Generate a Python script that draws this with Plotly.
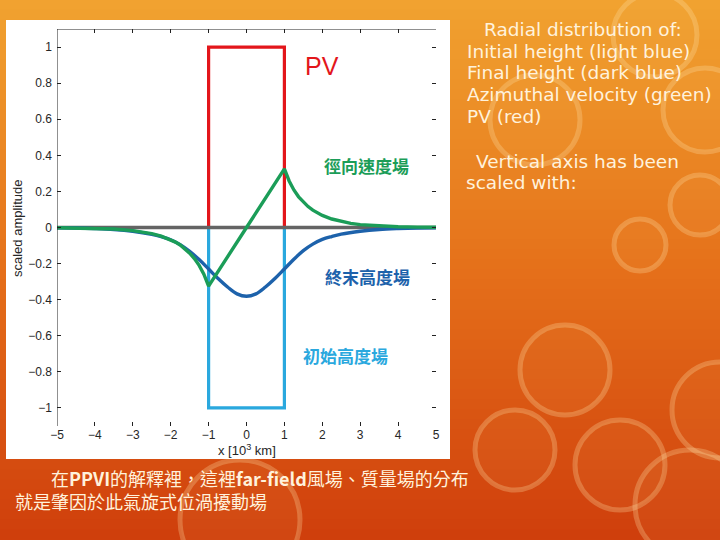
import plotly.graph_objects as go

# ---------------- data ----------------
x_box = [-5, -1, -1, 1, 1, 5]
initial_h = [0, 0, -1, -1, 0, 0]          # light blue
pv = [0, 0, 1, 1, 0, 0]                   # red

x_final = [-5, -4.5, -4, -3.5, -3, -2.5, -2.25, -2, -1.75, -1.5, -1.25, -1,
           -0.75, -0.5, -0.25, 0, 0.25, 0.5, 0.75, 1, 1.25, 1.5, 1.75, 2,
           2.25, 2.5, 3, 3.5, 4, 4.5, 5]
final_h = [-0.002, -0.003, -0.006, -0.011, -0.021, -0.038, -0.051, -0.068,
           -0.095, -0.132, -0.178, -0.230, -0.283, -0.330, -0.368, -0.381,
           -0.368, -0.330, -0.283, -0.230, -0.176, -0.128, -0.092, -0.066,
           -0.050, -0.037, -0.021, -0.011, -0.006, -0.003, -0.002]

x_vel = [-5, -4.5, -4, -3.5, -3, -2.75, -2.5, -2.25, -2, -1.875, -1.75, -1.625,
         -1.5, -1.375, -1.25, -1.125, -1, 0, 1, 1.125, 1.25, 1.375, 1.5, 1.625,
         1.75, 1.875, 2, 2.25, 2.5, 2.75, 3, 3.5, 4, 4.5, 5]
velocity = [-0.001, -0.002, -0.004, -0.008, -0.017, -0.024, -0.034, -0.048,
            -0.068, -0.081, -0.097, -0.117, -0.142, -0.172, -0.210, -0.259,
            -0.325, 0.0, 0.325, 0.258, 0.208, 0.170, 0.140, 0.116, 0.096,
            0.080, 0.067, 0.047, 0.033, 0.023, 0.016, 0.008, 0.004, 0.002,
            0.001]

y_ticks = [-1, -0.8, -0.6, -0.4, -0.2, 0, 0.2, 0.4, 0.6, 0.8, 1]
y_ticktext = ["\u22121", "\u22120.8", "\u22120.6", "\u22120.4", "\u22120.2",
              "0", "0.2", "0.4", "0.6", "0.8", "1"]
x_ticks = [-5, -4, -3, -2, -1, 0, 1, 2, 3, 4, 5]
x_ticktext = ["\u22125", "\u22124", "\u22123", "\u22122", "\u22121",
              "0", "1", "2", "3", "4", "5"]

# ---------------- layout helpers ----------------
W, H = 720, 540
ML, MR, MT, MB = 57, 284, 29, 114
PW, PH = W - ML - MR, H - MT - MB


def px(p):
    return (p - ML) / PW


def py(p):
    return (H - MB - p) / PH


RED = "#e3161b"
LBLUE = "#2aa8de"
DBLUE = "#1d62ab"
GREEN = "#1b9d58"

fig = go.Figure()
fig.add_trace(go.Scatter(x=x_box, y=initial_h, mode="lines",
                         line=dict(color=LBLUE, width=3.2), hoverinfo="skip"))
fig.add_trace(go.Scatter(x=x_box, y=pv, mode="lines",
                         line=dict(color=RED, width=3.2), hoverinfo="skip"))
fig.add_trace(go.Scatter(x=[x_ticks[0], x_ticks[-1]], y=[0, 0], mode="lines",
                         line=dict(color="#646464", width=3.3), hoverinfo="skip"))
fig.add_trace(go.Scatter(x=x_final, y=final_h, mode="lines",
                         line=dict(color=DBLUE, width=3.4, shape="spline"),
                         hoverinfo="skip"))
fig.add_trace(go.Scatter(x=x_vel, y=velocity, mode="lines",
                         line=dict(color=GREEN, width=3.4), hoverinfo="skip"))

# ---------------- background ----------------
shapes = []
top = (241, 163, 48)
mid = (229, 112, 26)
bot = (207, 62, 12)
n = 54
for k in range(n):
    t = (k + 0.5) / n
    if t < 0.5:
        a, b, s = top, mid, t / 0.5
    else:
        a, b, s = mid, bot, (t - 0.5) / 0.5
    c = tuple(int(round(a[i] + (b[i] - a[i]) * s)) for i in range(3))
    shapes.append(dict(type="rect", xref="paper", yref="paper", layer="below",
                       x0=px(0), x1=px(W), y0=py((k + 1) * H / n + 0.5),
                       y1=py(k * H / n - 0.5),
                       fillcolor="rgb(%d,%d,%d)" % c, line=dict(width=0)))

circles = [(655, 35, 42), (705, 110, 42), (640, 245, 26), (700, 205, 30),
           (565, 370, 45), (620, 465, 45), (720, 410, 48), (535, 120, 45),
           (690, 505, 55), (240, 520, 60), (515, 450, 40)]
for cx, cy, r in circles:
    shapes.append(dict(type="circle", xref="paper", yref="paper", layer="below",
                       x0=px(cx - r), x1=px(cx + r), y0=py(cy + r), y1=py(cy - r),
                       line=dict(color="rgba(255,225,170,0.28)", width=5),
                       fillcolor="rgba(255,200,120,0.06)"))

# white panel
shapes.append(dict(type="rect", xref="paper", yref="paper", layer="below",
                   x0=px(6), x1=px(450), y0=py(459), y1=py(20),
                   fillcolor="#ffffff", line=dict(width=0)))
# axis lines (left and top)
shapes.append(dict(type="line", xref="x", yref="y", x0=-5, x1=-5, y0=-1.1,
                   y1=1.1, line=dict(color="#222", width=1)))
shapes.append(dict(type="line", xref="x", yref="y", x0=-5, x1=5, y0=1.1,
                   y1=1.1, line=dict(color="#222", width=1)))

# ---------------- annotations ----------------
ann = []
CJK = "Noto Sans CJK TC"
C = dict(xanchor="center", yanchor="middle", showarrow=False)
ann.append(dict(x=2.0, y=0.895, xref="x", yref="y", text="PV",
                font=dict(family="Liberation Sans", size=25, color=RED), **C))
ann.append(dict(x=3.17, y=0.346, xref="x", yref="y", text="<b>徑向速度場</b>",
                font=dict(family=CJK, size=17, color=GREEN), **C))
ann.append(dict(x=3.19, y=-0.27, xref="x", yref="y", text="<b>終末高度場</b>",
                font=dict(family=CJK, size=17, color=DBLUE), **C))
ann.append(dict(x=2.6, y=-0.71, xref="x", yref="y", text="<b>初始高度場</b>",
                font=dict(family=CJK, size=17, color=LBLUE), **C))

# axis titles
ann.append(dict(x=px(18), y=py(228), xref="paper", yref="paper",
                text="scaled amplitude", textangle=-90,
                font=dict(family="Liberation Sans", size=13, color="#262626"), **C))
ann.append(dict(x=px(247), y=py(450), xref="paper", yref="paper",
                text="x [10<sup>3</sup> km]",
                font=dict(family="Liberation Sans", size=13, color="#262626"), **C))

# right side text
TXT = "#fff2dc"
right_lines = [
    (482, 30, "Radial distribution of:"),
    (465, 51.7, "Initial height (light blue)"),
    (465, 72.7, "Final height (dark blue)"),
    (465, 94.3, "Azimuthal velocity (green)"),
    (465, 116.7, "PV (red)"),
    (474, 161.7, "Vertical axis has been"),
    (464, 182.7, "scaled with:"),
]
for lx, ly, t in right_lines:
    ann.append(dict(x=px(lx), y=py(ly), xref="paper", yref="paper", text=t,
                    xanchor="left", yanchor="middle", showarrow=False,
                    font=dict(family="DejaVu Sans", size=18.5, color=TXT)))

# bottom text (one block, first line indented)
ann.append(dict(x=px(13), y=py(489), xref="paper", yref="paper",
                text="\u3000\u3000在<b>PPVI</b>的解釋裡，這裡<b>far-field</b>風場、質量場的分布"
                     "<br>就是肇因於此氣旋式位渦擾動場",
                xanchor="left", yanchor="middle", align="left", showarrow=False,
                font=dict(family=CJK, size=18, color=TXT)))

tickfont = dict(family="Liberation Sans", size=12, color="#262626")
fig.update_layout(
    width=W, height=H,
    margin=dict(l=ML, r=MR, t=MT, b=MB, pad=0),
    paper_bgcolor="rgb(229,112,26)",
    plot_bgcolor="rgba(0,0,0,0)",
    showlegend=False,
    shapes=shapes,
    annotations=ann,
    xaxis=dict(range=[-5, 5], tickvals=x_ticks, ticktext=x_ticktext,
               ticks="inside", ticklen=4, tickcolor="#222", mirror="ticks",
               showline=False, showgrid=False, zeroline=False,
               tickfont=tickfont, fixedrange=True),
    yaxis=dict(range=[-1.1, 1.1], tickvals=y_ticks, ticktext=y_ticktext,
               ticks="inside", ticklen=4, tickcolor="#222", mirror="ticks",
               showline=False, showgrid=False, zeroline=False,
               tickfont=tickfont, fixedrange=True, ticklabelstandoff=4),
)

fig.write_html(
    "out.html",
    config={"displayModeBar": False},
    post_script="document.body.style.margin='0';"
                "document.body.style.padding='0';"
                "document.body.style.overflow='hidden';",
)
